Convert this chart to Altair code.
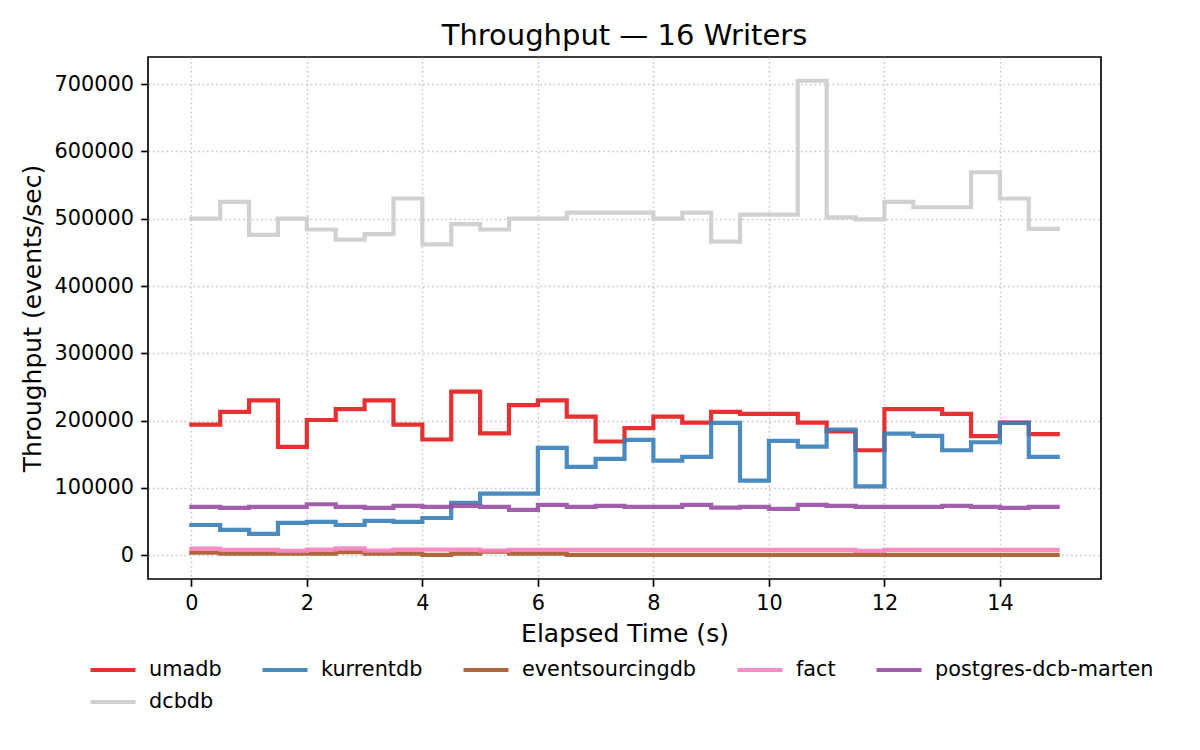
import altair as alt
import pandas as pd

times = [0, 0.5, 1, 1.5, 2, 2.5, 3, 3.5, 4, 4.5, 5, 5.5, 6, 6.5, 7, 7.5,
         8, 8.5, 9, 9.5, 10, 10.5, 11, 11.5, 12, 12.5, 13, 13.5, 14, 14.5, 15]

umadb = [194000, 213000, 230000, 161000, 201000, 217000, 230000, 194000,
         172000, 243000, 181000, 223000, 230000, 206000, 169000, 189000,
         206000, 197000, 213000, 210000, 210000, 197000, 184000, 156000,
         217000, 217000, 210000, 177000, 197000, 180000, 180000]

kurrentdb = [45000, 37600, 31700, 48000, 49500, 45000, 51000, 49500,
             55400, 77700, 91600, 91600, 159500, 131300, 143200, 171400,
             140700, 146100, 196700, 111000, 169900, 161500, 186800, 102500,
             180800, 177400, 156000, 167900, 196700, 146100, 146100]

eventsourcingdb = [4000, 2500, 2500, 2500, 2500, 4500, 2500, 2500,
                   500, 2500, 5500, 2500, 2500, 700, 700, 700,
                   700, 700, 700, 700, 700, 700, 700, 700,
                   700, 700, 700, 700, 700, 700, 700]

fact = [9900, 7900, 7900, 6400, 8400, 10400, 6900, 8400,
        8400, 8400, 7000, 8000, 8000, 8000, 8000, 8000,
        8000, 8000, 8000, 8000, 8000, 8000, 8000, 6500,
        8000, 8000, 8000, 8000, 8000, 8000, 8000]

postgres = [71800, 70300, 71800, 71800, 75800, 71800, 70300, 73300,
            71800, 73300, 71800, 67400, 74800, 71800, 73300, 71800,
            71800, 74800, 70800, 71800, 68800, 74800, 73300, 71800,
            71800, 71800, 73300, 71800, 70300, 71800, 71800]

dcbdb = [500000, 525000, 476000, 500000, 484000, 469000, 477000, 530000,
         462000, 492000, 484000, 500000, 500000, 509000, 509000, 509000,
         500000, 509000, 466000, 506000, 506000, 705000, 502000, 499000,
         525000, 517000, 517000, 569000, 530000, 485000, 485000]

names = ["umadb", "kurrentdb", "eventsourcingdb", "fact", "postgres-dcb-marten", "dcbdb"]
colors = ["#e41a1c", "#377eb8", "#a65628", "#f781bf", "#984ea3", "#cccccc"]
series = [umadb, kurrentdb, eventsourcingdb, fact, postgres, dcbdb]

x_ticks = [0, 2, 4, 6, 8, 10, 12, 14]
y_ticks = [0, 100000, 200000, 300000, 400000, 500000, 600000, 700000]

rows = []
for k, (name, vals) in enumerate(zip(names, series)):
    for tt, vv in zip(times, vals):
        rows.append({"t": tt, "v": vv, "s": name, "k": k})
df = pd.DataFrame(rows)

FONT = "DejaVu Sans"

chart = alt.Chart(df).mark_line(
    interpolate="step-after", strokeWidth=4.2, opacity=0.9,
    strokeJoin="miter", strokeCap="square"
).encode(
    x=alt.X("t:Q", scale=alt.Scale(domain=[-0.75, 15.75], nice=False, zero=False),
            axis=alt.Axis(values=x_ticks, format="d", title="Elapsed Time (s)")),
    y=alt.Y("v:Q", scale=alt.Scale(domain=[-35250, 740250], nice=False, zero=False),
            axis=alt.Axis(values=y_ticks, format="d", title="Throughput (events/sec)")),
    color=alt.Color("s:N", sort=names,
                    scale=alt.Scale(domain=names, range=colors),
                    legend=alt.Legend(title=None)),
).properties(
    width=953, height=522,
    title=alt.TitleParams("Throughput — 16 Writers", fontSize=29, font=FONT,
                          fontWeight="normal", color="black", offset=6),
    autosize=alt.AutoSizeParams(type="none"),
    padding={"left": 140, "top": 49, "right": 91, "bottom": 163},
).configure_view(
    stroke="black", strokeWidth=1.67
).configure_axis(
    labelFont=FONT, labelFontSize=20.8, labelColor="black",
    titleFont=FONT, titleFontSize=25, titleFontWeight="normal", titleColor="black",
    tickColor="black", tickSize=7.3, tickWidth=1.67, labelPadding=7.3,
    domain=False, grid=True, gridColor="#b0b0b0", gridOpacity=0.7,
    gridDash=[1.7, 2.8], gridWidth=1.4,
).configure_axisX(
    titlePadding=8
).configure_axisY(
    titlePadding=9
).configure_legend(
    orient="none", legendX=-60, legendY=588, direction="horizontal", columns=5,
    gridAlign="none",
    symbolType="stroke", symbolSize=2025, symbolStrokeWidth=4.2, symbolOpacity=0.9,
    labelFont=FONT, labelFontSize=20.8, labelColor="black", labelOffset=11,
    labelLimit=500, columnPadding=32, rowPadding=-3, padding=0
)

chart.save("out.html", embed_options={"renderer": "svg", "actions": False})
